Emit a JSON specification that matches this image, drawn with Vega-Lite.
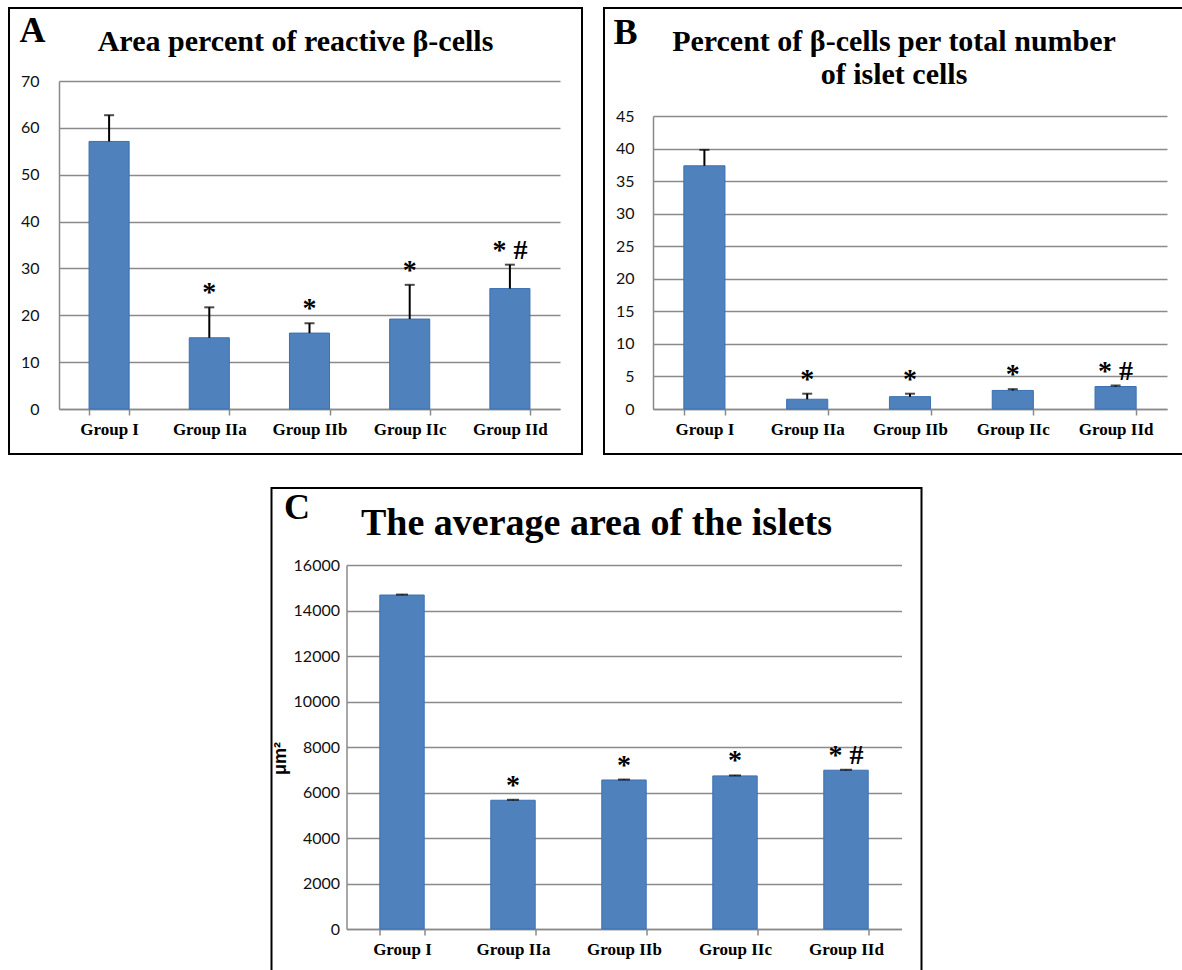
{
  "$schema": "https://vega.github.io/schema/vega-lite/v6.json",
  "background": "white",
  "padding": {"left": 8, "top": 7, "right": 0, "bottom": 0},
  "datasets": {
    "panelA": [
      {"group": "Group I", "value": 57.1, "err": 62.7, "sig": ""},
      {"group": "Group IIa", "value": 15.2, "err": 21.7, "sig": "*"},
      {"group": "Group IIb", "value": 16.2, "err": 18.3, "sig": "*"},
      {"group": "Group IIc", "value": 19.2, "err": 26.5, "sig": "*"},
      {"group": "Group IId", "value": 25.7, "err": 30.8, "sig": "* #"}
    ],
    "panelB": [
      {"group": "Group I", "value": 37.35, "err": 39.8, "sig": ""},
      {"group": "Group IIa", "value": 1.5, "err": 2.35, "sig": "*"},
      {"group": "Group IIb", "value": 1.9, "err": 2.35, "sig": "*"},
      {"group": "Group IIc", "value": 2.85, "err": 3.05, "sig": "*"},
      {"group": "Group IId", "value": 3.45, "err": 3.6, "sig": "* #"}
    ],
    "panelC": [
      {"group": "Group I", "value": 14680, "err": 14700, "sig": ""},
      {"group": "Group IIa", "value": 5660, "err": 5680, "sig": "*"},
      {"group": "Group IIb", "value": 6550, "err": 6570, "sig": "*"},
      {"group": "Group IIc", "value": 6730, "err": 6750, "sig": "*"},
      {"group": "Group IId", "value": 6980, "err": 7000, "sig": "* #"}
    ]
  },
  "spacing": 32,
  "center": true,
  "vconcat": [
    {
      "spacing": 20,
      "hconcat": [
        {
          "width": 573,
          "height": 446,
          "data": {"name": "panelA"},
          "title": {"text": "Area percent of reactive β-cells", "offset": -73, "baseline": "alphabetic", "font": "Liberation Serif", "fontSize": 30, "fontWeight": "bold", "color": "black", "anchor": "middle"},
          "encoding": {
            "x": {"field": "group", "type": "nominal", "sort": null,
              "scale": {"range": [50, 551], "paddingInner": 0.6, "paddingOuter": 0.3},
              "axis": {"title": "A", "titleX": 10, "titleY": -368, "titleAlign": "left", "titleBaseline": "alphabetic", "titleAngle": 0, "titleFont": "Liberation Serif", "titleFontSize": 36, "titleFontWeight": "bold", "titleColor": "black",
                "offset": -45, "domainColor": "#8a8a8a", "domainWidth": 1.5, "tickBand": "extent", "tickColor": "#8a8a8a", "tickSize": 6, "tickWidth": 1.5, "labelPadding": 6, "labelFont": "Liberation Serif", "labelFontSize": 17, "labelFontWeight": "bold", "labelColor": "black", "labelAngle": 0, "grid": false}},
            "y": {"field": "value", "type": "quantitative",
              "scale": {"domain": [0, 70], "range": [401, 73], "nice": false, "zero": true},
              "axis": {"title": null, "offset": -50, "values": [0, 10, 20, 30, 40, 50, 60, 70], "tickSize": -501, "tickColor": "#8a8a8a", "tickWidth": 1.5, "labelPadding": 521, "labelFont": "Lato", "labelFontSize": 16, "labelColor": "#111111", "domainColor": "#8a8a8a", "domainWidth": 1.5, "grid": false}}
          },
          "layer": [
            {"mark": {"type": "bar", "color": "#4F81BD", "stroke": "#3A70B5", "strokeWidth": 1}},
            {"mark": {"type": "rule", "color": "black", "strokeWidth": 2}, "encoding": {"y2": {"field": "err"}}},
            {"mark": {"type": "tick", "color": "black", "size": 10, "thickness": 2}, "encoding": {"y": {"field": "err", "type": "quantitative", "axis": {"title": null}}}},
            {"mark": {"type": "text", "font": "Liberation Serif", "fontSize": 28, "fontWeight": "bold", "baseline": "bottom", "dy": 0, "color": "black"}, "encoding": {"y": {"field": "err", "type": "quantitative", "axis": {"title": null}}, "text": {"field": "sig"}}}
          ]
        },
        {
          "width": 580,
          "height": 446,
          "data": {"name": "panelB"},
          "title": {"text": ["Percent of β-cells per total number", "of islet cells"], "offset": -106, "baseline": "alphabetic", "lineHeight": 33, "font": "Liberation Serif", "fontSize": 30, "fontWeight": "bold", "color": "black", "anchor": "middle"},
          "encoding": {
            "x": {"field": "group", "type": "nominal", "sort": null,
              "scale": {"range": [49, 563], "paddingInner": 0.6, "paddingOuter": 0.3},
              "axis": {"title": "B", "titleX": 9, "titleY": -366, "titleAlign": "left", "titleBaseline": "alphabetic", "titleAngle": 0, "titleFont": "Liberation Serif", "titleFontSize": 36, "titleFontWeight": "bold", "titleColor": "black",
                "offset": -45, "domainColor": "#8a8a8a", "domainWidth": 1.5, "tickBand": "extent", "tickColor": "#8a8a8a", "tickSize": 6, "tickWidth": 1.5, "labelPadding": 6, "labelFont": "Liberation Serif", "labelFontSize": 17, "labelFontWeight": "bold", "labelColor": "black", "labelAngle": 0, "grid": false}},
            "y": {"field": "value", "type": "quantitative",
              "scale": {"domain": [0, 45], "range": [401, 108], "nice": false, "zero": true},
              "axis": {"title": null, "offset": -49, "values": [0, 5, 10, 15, 20, 25, 30, 35, 40, 45], "tickSize": -514, "tickColor": "#8a8a8a", "tickWidth": 1.5, "labelPadding": 533, "labelFont": "Lato", "labelFontSize": 16, "labelColor": "#111111", "domainColor": "#8a8a8a", "domainWidth": 1.5, "grid": false}}
          },
          "layer": [
            {"mark": {"type": "bar", "color": "#4F81BD", "stroke": "#3A70B5", "strokeWidth": 1}},
            {"mark": {"type": "rule", "color": "black", "strokeWidth": 2}, "encoding": {"y2": {"field": "err"}}},
            {"mark": {"type": "tick", "color": "black", "size": 10, "thickness": 2}, "encoding": {"y": {"field": "err", "type": "quantitative", "axis": {"title": null}}}},
            {"mark": {"type": "text", "font": "Liberation Serif", "fontSize": 28, "fontWeight": "bold", "baseline": "bottom", "dy": 0, "color": "black"}, "encoding": {"y": {"field": "err", "type": "quantitative", "axis": {"title": null}}, "text": {"field": "sig"}}}
          ]
        }
      ]
    },
    {
      "width": 650,
      "height": 490,
      "data": {"name": "panelC"},
      "title": {"text": "The average area of the islets", "offset": -85, "baseline": "alphabetic", "font": "Liberation Serif", "fontSize": 38, "fontWeight": "bold", "color": "black", "anchor": "middle"},
      "encoding": {
        "x": {"field": "group", "type": "nominal", "sort": null,
          "scale": {"range": [75, 630], "paddingInner": 0.6, "paddingOuter": 0.3},
          "axis": {"title": "C", "titleX": 12, "titleY": -411, "titleAlign": "left", "titleBaseline": "alphabetic", "titleAngle": 0, "titleFont": "Liberation Serif", "titleFontSize": 36, "titleFontWeight": "bold", "titleColor": "black",
            "offset": -49, "domainColor": "#8a8a8a", "domainWidth": 1.5, "tickBand": "extent", "tickColor": "#8a8a8a", "tickSize": 6, "tickWidth": 1.5, "labelPadding": 6, "labelFont": "Liberation Serif", "labelFontSize": 17, "labelFontWeight": "bold", "labelColor": "black", "labelAngle": 0, "grid": false}},
        "y": {"field": "value", "type": "quantitative",
          "scale": {"domain": [0, 16000], "range": [441, 77], "nice": false, "zero": true},
          "axis": {"title": "μm²", "titleX": -66, "titleY": 270, "titleAngle": -90, "titleAlign": "center", "titleBaseline": "middle", "titleFont": "Liberation Sans", "titleFontSize": 18, "titleFontWeight": "bold", "titleColor": "black",
            "offset": -75, "values": [0, 2000, 4000, 6000, 8000, 10000, 12000, 14000, 16000], "format": "d", "tickSize": -555, "tickColor": "#8a8a8a", "tickWidth": 1.5, "labelPadding": 562, "labelFont": "Lato", "labelFontSize": 16, "labelColor": "#111111", "domainColor": "#8a8a8a", "domainWidth": 1.5, "grid": false}}
      },
      "layer": [
        {"mark": {"type": "bar", "color": "#4F81BD", "stroke": "#3A70B5", "strokeWidth": 1}},
        {"mark": {"type": "rule", "color": "black", "strokeWidth": 2}, "encoding": {"y2": {"field": "err"}}},
        {"mark": {"type": "tick", "color": "black", "size": 12, "thickness": 2}, "encoding": {"y": {"field": "err", "type": "quantitative", "axis": {"title": "μm²"}}}},
        {"mark": {"type": "text", "font": "Liberation Serif", "fontSize": 28, "fontWeight": "bold", "baseline": "bottom", "dy": 0, "color": "black"}, "encoding": {"y": {"field": "err", "type": "quantitative", "axis": {"title": "μm²"}}, "text": {"field": "sig"}}}
      ]
    }
  ],
  "config": {
    "view": {"stroke": "black", "strokeWidth": 2},
    "axis": {"labelOverlap": false}
  }
}
